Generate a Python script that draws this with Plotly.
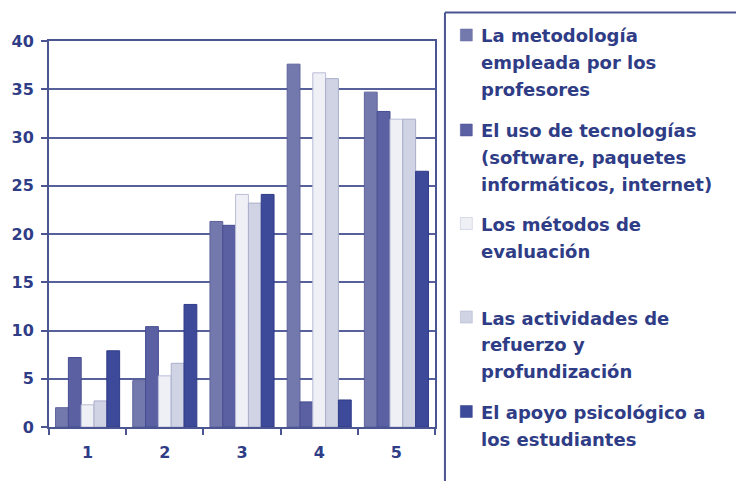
import plotly.graph_objects as go

# Datos
categorias = ["1", "2", "3", "4", "5"]
metodologia = [2.0, 4.8, 21.3, 37.6, 34.7]
tecnologias = [7.2, 10.4, 20.9, 2.6, 32.7]
evaluacion = [2.3, 5.3, 24.1, 36.7, 31.9]
refuerzo = [2.7, 6.6, 23.2, 36.1, 31.9]
apoyo = [7.9, 12.7, 24.1, 2.8, 26.5]

nombres = [
    ["La metodología", "empleada por los", "profesores"],
    ["El uso de tecnologías", "(software, paquetes", "informáticos, internet)"],
    ["Los métodos de", "evaluación"],
    ["Las actividades de", "refuerzo y", "profundización"],
    ["El apoyo psicológico a", "los estudiantes"],
]
series = [metodologia, tecnologias, evaluacion, refuerzo, apoyo]
colores = ["#7479AD", "#5A60A2", "#EFF0F6", "#D0D3E3", "#3D4A9A"]
bordes = ["#5E639C", "#474D92", "#B8BCD6", "#A9AECB", "#2F3B88"]

navy = "#2F3C86"
linea = "#4A5592"
W, H = 736, 481
L, R, T, B = 47, 301, 41, 54


def px_x(p):
    return (p - L) / (W - L - R)


def px_y(p):
    return 1 - (p - T) / (H - T - B)


fig = go.Figure()
for i, vals in enumerate(series):
    fig.add_trace(go.Bar(
        x=categorias, y=vals, name=" ".join(nombres[i]),
        marker=dict(color=colores[i], line=dict(color=bordes[i], width=1)),
        showlegend=False,
    ))

fig.update_layout(
    width=W, height=H,
    margin=dict(l=L, r=R, t=T, b=B),
    paper_bgcolor="white", plot_bgcolor="white",
    barmode="group", bargap=0.17, bargroupgap=0.0,
    font=dict(family="DejaVu Sans, sans-serif", color=navy),
    xaxis=dict(
        type="category", showline=True, linecolor=linea, linewidth=2, mirror=True,
        ticks="outside", tickson="boundaries", ticklen=6, tickcolor=linea, tickwidth=2,
        ticklabelstandoff=10,
        tickfont=dict(size=16, color=navy, weight="bold"), showgrid=False,
    ),
    yaxis=dict(
        range=[0, 40], dtick=5, showline=True, linecolor=linea, linewidth=2, mirror=True,
        ticks="outside", ticklen=6, tickcolor=linea, tickwidth=2,
        ticklabelstandoff=4,
        gridcolor="#56609A", gridwidth=2,
        tickfont=dict(size=16, color=navy, weight="bold"),
    ),
)

# leyenda dibujada a mano (interlineado como en el original)
centros = [35, 130, 223.5, 317, 411.5]
for i, lineas in enumerate(nombres):
    c = centros[i]
    fig.add_shape(type="rect", xref="paper", yref="paper",
                  x0=px_x(460.5), x1=px_x(472.5), y0=px_y(c - 6), y1=px_y(c + 6),
                  fillcolor=colores[i], line=dict(color=bordes[i], width=0.5))
    for j, txt in enumerate(lineas):
        fig.add_annotation(
            xref="paper", yref="paper", x=px_x(479), y=px_y(c + 1 + j * 26.8),
            xanchor="left", yanchor="middle", showarrow=False, text=txt,
            font=dict(family="DejaVu Sans", size=18, color=navy, weight="bold"),
        )

# marco del área de la leyenda
fig.add_shape(type="line", xref="paper", yref="paper",
              x0=px_x(445), x1=px_x(445), y0=px_y(H + 5), y1=px_y(12.5),
              line=dict(color=linea, width=2))
fig.add_shape(type="line", xref="paper", yref="paper",
              x0=px_x(445), x1=px_x(W + 5), y0=px_y(12.5), y1=px_y(12.5),
              line=dict(color=linea, width=2))

fig.write_html("out.html", config={"displayModeBar": False},
               post_script="document.body.style.margin='0';")
